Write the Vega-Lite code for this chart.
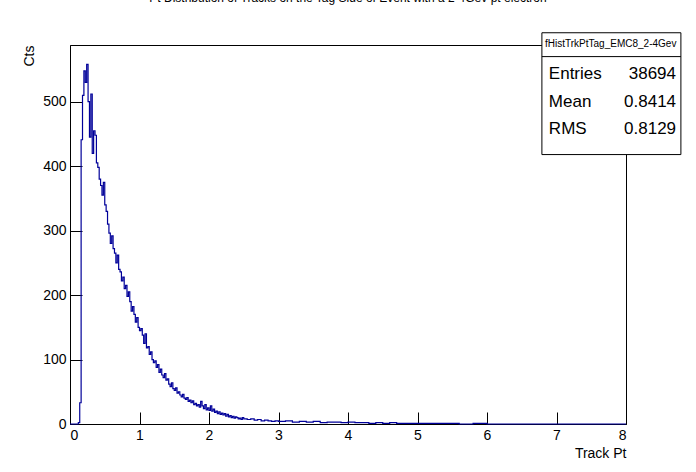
{
"$schema":"https://vega.github.io/schema/vega-lite/v6.json",
"width":556,"height":379,
"autosize":{"type":"none"},
"padding":{"left":70,"top":45,"right":70,"bottom":48},
"background":"white",
"config":{"font":"Liberation Sans","view":{"stroke":"black","strokeWidth":1}},
"title":{"text":"Pt Distribution of Tracks on the Tag Side of Event with a 2-4Gev pt electron","fontSize":12,"fontWeight":"normal","anchor":"middle","offset":22,"baseline":"middle","font":"Liberation Sans"},
"datasets":{
"h":[
{"x":0,"c":0},{"x":0.1,"c":0},{"x":0.12,"c":2},{"x":0.14,"c":33},{"x":0.16,"c":441},{"x":0.18,"c":510},{"x":0.2,"c":548},{"x":0.22,"c":530},{"x":0.24,"c":558},{"x":0.26,"c":500},{"x":0.28,"c":445},{"x":0.3,"c":512},{"x":0.32,"c":420},{"x":0.34,"c":455},{"x":0.36,"c":448},{"x":0.38,"c":405},{"x":0.4,"c":398},{"x":0.42,"c":380},{"x":0.44,"c":370},{"x":0.46,"c":355},{"x":0.48,"c":375},{"x":0.5,"c":340},{"x":0.52,"c":330},{"x":0.54,"c":310},{"x":0.56,"c":296},{"x":0.58,"c":280},{"x":0.6,"c":292},{"x":0.62,"c":272},{"x":0.64,"c":265},{"x":0.66,"c":250},{"x":0.68,"c":262},{"x":0.7,"c":240},{"x":0.72,"c":236},{"x":0.74,"c":222},{"x":0.76,"c":228},{"x":0.78,"c":210},{"x":0.8,"c":215},{"x":0.82,"c":198},{"x":0.84,"c":205},{"x":0.86,"c":190},{"x":0.88,"c":175},{"x":0.9,"c":182},{"x":0.92,"c":170},{"x":0.94,"c":158},{"x":0.96,"c":165},{"x":0.98,"c":150},{"x":1.0,"c":145},{"x":1.02,"c":148},{"x":1.04,"c":138},{"x":1.06,"c":125},{"x":1.08,"c":140},{"x":1.1,"c":118},{"x":1.12,"c":120},{"x":1.14,"c":108},{"x":1.16,"c":112},{"x":1.18,"c":100},{"x":1.2,"c":95},{"x":1.22,"c":98},{"x":1.24,"c":88},{"x":1.26,"c":92},{"x":1.28,"c":80},{"x":1.3,"c":85},{"x":1.32,"c":76},{"x":1.34,"c":72},{"x":1.36,"c":78},{"x":1.38,"c":68},{"x":1.4,"c":70},{"x":1.42,"c":62},{"x":1.44,"c":58},{"x":1.46,"c":64},{"x":1.48,"c":55},{"x":1.5,"c":52},{"x":1.52,"c":56},{"x":1.54,"c":48},{"x":1.56,"c":50},{"x":1.58,"c":45},{"x":1.6,"c":42},{"x":1.62,"c":46},{"x":1.64,"c":40},{"x":1.66,"c":38},{"x":1.68,"c":41},{"x":1.7,"c":35},{"x":1.72,"c":37},{"x":1.74,"c":33},{"x":1.76,"c":36},{"x":1.78,"c":30},{"x":1.8,"c":32},{"x":1.82,"c":28},{"x":1.84,"c":30},{"x":1.86,"c":26},{"x":1.88,"c":35},{"x":1.9,"c":28},{"x":1.92,"c":24},{"x":1.94,"c":30},{"x":1.96,"c":22},{"x":1.98,"c":25},{"x":2.0,"c":21},{"x":2.02,"c":28},{"x":2.04,"c":20},{"x":2.06,"c":23},{"x":2.08,"c":18},{"x":2.1,"c":20},{"x":2.12,"c":16},{"x":2.14,"c":19},{"x":2.16,"c":15},{"x":2.18,"c":17},{"x":2.2,"c":14},{"x":2.22,"c":16},{"x":2.24,"c":12},{"x":2.26,"c":15},{"x":2.28,"c":11},{"x":2.3,"c":13},{"x":2.32,"c":10},{"x":2.34,"c":12},{"x":2.36,"c":9},{"x":2.38,"c":11},{"x":2.4,"c":10},{"x":2.42,"c":8},{"x":2.44,"c":9},{"x":2.46,"c":7},{"x":2.48,"c":10},{"x":2.5,"c":8},{"x":2.55,"c":7},{"x":2.6,"c":8},{"x":2.65,"c":6},{"x":2.7,"c":7},{"x":2.75,"c":5},{"x":2.8,"c":6},{"x":2.85,"c":5},{"x":2.9,"c":4},{"x":2.95,"c":5},{"x":3.0,"c":4},{"x":3.1,"c":5},{"x":3.2,"c":3},{"x":3.3,"c":4},{"x":3.4,"c":3},{"x":3.5,"c":4},{"x":3.6,"c":2},{"x":3.7,"c":3},{"x":3.8,"c":3},{"x":3.9,"c":2},{"x":4.0,"c":3},{"x":4.1,"c":2},{"x":4.2,"c":2},{"x":4.3,"c":1},{"x":4.4,"c":2},{"x":4.5,"c":1},{"x":4.6,"c":2},{"x":4.7,"c":1},{"x":4.8,"c":1},{"x":4.9,"c":1},{"x":5.0,"c":1},{"x":5.2,"c":1},{"x":5.4,"c":1},{"x":5.6,"c":0},{"x":5.8,"c":1},{"x":6.0,"c":0},{"x":8.0,"c":0}
],
"box":[{"x1":6.79,"x2":8.79,"y1":418,"y2":607}],
"hdr":[{"x1":6.79,"x2":8.79,"y":570}],
"name":[{"x":7.78,"y":589,"t":"fHistTrkPtTag_EMC8_2-4Gev"}],
"stats":[{"lx":6.89,"vx":8.72,"y":543,"l":"Entries","v":"38694"},{"lx":6.89,"vx":8.72,"y":500,"l":"Mean","v":"0.8414"},{"lx":6.89,"vx":8.72,"y":457,"l":"RMS","v":"0.8129"}]
},
"layer":[
{"data":{"name":"h"},"mark":{"type":"line","interpolate":"step-after","color":"#000099","strokeWidth":1.2},
 "encoding":{
  "x":{"field":"x","type":"quantitative","scale":{"domain":[0,8],"nice":false},
   "axis":{"values":[0,1,2,3,4,5,6,7,8],"format":"d","tickSize":-12,"tickColor":"black","domain":true,"domainColor":"black","grid":false,"labelFontSize":14,"labelColor":"black","labelPadding":16,"title":"Track Pt","titleAnchor":"end","titleFontSize":14,"titleFontWeight":"normal","titleColor":"black","titlePadding":4}},
  "y":{"field":"c","type":"quantitative","scale":{"domain":[0,588],"nice":false},
   "axis":{"values":[0,100,200,300,400,500],"format":"d","tickSize":-12,"tickColor":"black","domainColor":"black","grid":false,"labelFontSize":14,"labelColor":"black","labelPadding":16,"title":"Cts","titleAnchor":"end","titleFontSize":14,"titleFontWeight":"normal","titleColor":"black","titlePadding":6}}}},
{"data":{"name":"box"},"mark":{"type":"rect","fill":"white","stroke":"black","strokeWidth":1,"clip":false},
 "encoding":{"x":{"field":"x1","type":"quantitative"},"x2":{"field":"x2"},"y":{"field":"y1","type":"quantitative"},"y2":{"field":"y2"}}},
{"data":{"name":"hdr"},"mark":{"type":"rule","color":"black","clip":false},
 "encoding":{"x":{"field":"x1","type":"quantitative"},"x2":{"field":"x2"},"y":{"field":"y","type":"quantitative"}}},
{"data":{"name":"name"},"mark":{"type":"text","fontSize":10,"align":"center","baseline":"middle","clip":false},
 "encoding":{"x":{"field":"x","type":"quantitative"},"y":{"field":"y","type":"quantitative"},"text":{"field":"t"}}},
{"data":{"name":"stats"},"mark":{"type":"text","fontSize":17,"align":"left","baseline":"middle","clip":false},
 "encoding":{"x":{"field":"lx","type":"quantitative"},"y":{"field":"y","type":"quantitative"},"text":{"field":"l"}}},
{"data":{"name":"stats"},"mark":{"type":"text","fontSize":17,"align":"right","baseline":"middle","clip":false},
 "encoding":{"x":{"field":"vx","type":"quantitative"},"y":{"field":"y","type":"quantitative"},"text":{"field":"v"}}}
]
}
